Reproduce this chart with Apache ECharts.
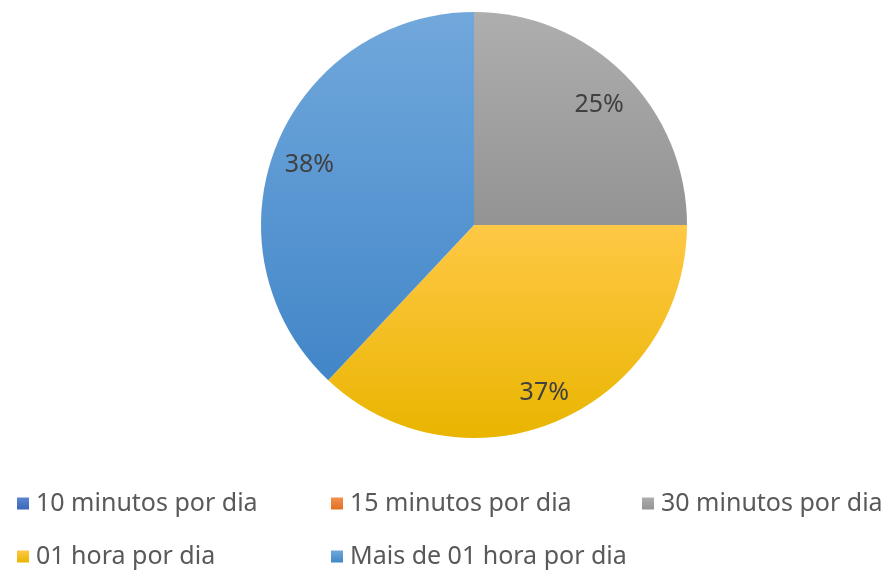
<!DOCTYPE html>
<html>
<head>
<meta charset="utf-8">
<script src="https://cdn.jsdelivr.net/npm/echarts@6/dist/echarts.min.js"></script>
<style>
  html, body { margin: 0; padding: 0; background: #fff; }
  #chart { width: 890px; height: 571px; }
</style>
</head>
<body>
<div id="chart"></div>
<script>
// dados do gráfico
var categorias = ['10 minutos por dia', '15 minutos por dia', '30 minutos por dia', '01 hora por dia', 'Mais de 01 hora por dia'];
var percentuais = [0, 0, 25, 37, 38];

// cores (topo / base do degradê)
var coresTopo = ['#5a86d0', '#f29150', '#aeaeae', '#ffc846', '#71a8dc'];
var coresBase = ['#3a66b8', '#e0701f', '#939393', '#e9b500', '#4286c8'];

var chart = echarts.init(document.getElementById('chart'));

function degrade(i) {
  return new echarts.graphic.LinearGradient(0, 0, 0, 1, [
    { offset: 0, color: coresTopo[i] },
    { offset: 1, color: coresBase[i] }
  ]);
}

var dados = categorias.map(function (nome, i) {
  return { name: nome, value: percentuais[i], itemStyle: { color: degrade(i) } };
});

// legenda em duas linhas, colunas fixas
var colunas = [12, 326, 637];
var legendas = categorias.map(function (nome, i) {
  return {
    data: [nome],
    left: colunas[i % 3],
    top: i < 3 ? 486 : 539,
    itemWidth: 12,
    itemHeight: 12,
    icon: 'rect',
    selectedMode: false,
    textStyle: {
      fontFamily: 'Noto Sans',
      fontSize: 25,
      color: '#595959',
      padding: [0, 0, 0, 2]
    }
  };
});

var optionData = {
  animation: false,
  legend: legendas,
  series: [
    {
      type: 'pie',
      center: [474, 225],
      radius: [0, 213],
      startAngle: 90,
      clockwise: true,
      data: dados,
      label: { show: false },
      labelLine: { show: false },
      silent: true
    },
    {
      // camada só para os rótulos
      type: 'pie',
      center: [474, 225],
      radius: [135, 213],
      startAngle: 90,
      clockwise: true,
      data: categorias.map(function (nome, i) {
        return { name: nome, value: percentuais[i] };
      }),
      itemStyle: { color: 'rgba(0,0,0,0)' },
      legendHoverLink: false,
      silent: true,
      label: {
        show: true,
        position: 'inside',
        offset: [0, 5],
        fontFamily: 'Noto Sans',
        fontSize: 25,
        color: '#404040',
        formatter: function (p) { return p.value ? p.value + '%' : ''; }
      },
      labelLine: { show: false }
    }
  ]
};

chart.setOption(optionData);
</script>
</body>
</html>
